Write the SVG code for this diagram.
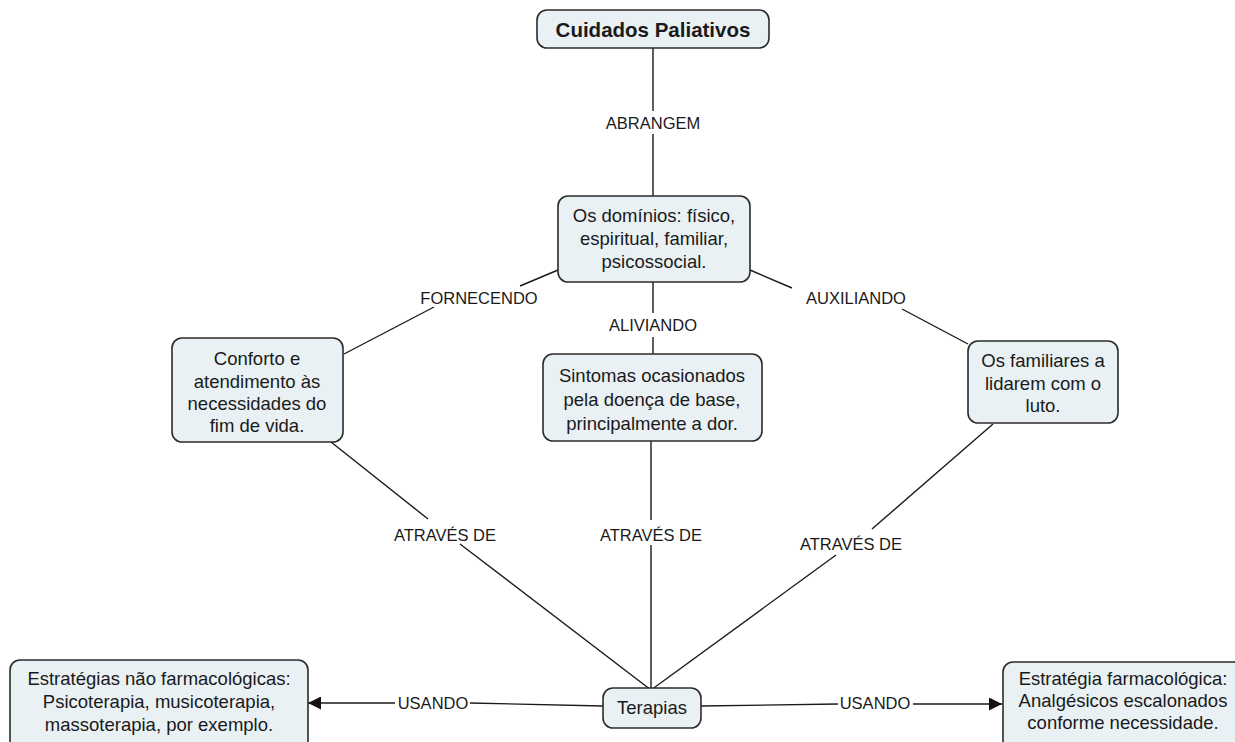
<svg xmlns="http://www.w3.org/2000/svg" width="1235" height="742" viewBox="0 0 1235 742">
  <style>
    .node rect { fill: #e9f1f4; stroke: #2b2b2b; stroke-width: 1.6; }
    .node text { font-family: "Liberation Sans", Arial, sans-serif; font-size: 18.5px; fill: #1a1a1a; text-anchor: middle; }
    .title text { font-weight: bold; font-size: 20.5px; }
    .edges line { stroke: #1a1a1a; stroke-width: 1.4; fill: none; }
    .lbl { font-family: "Liberation Sans", Arial, sans-serif; font-size: 16.5px; fill: #1a1a1a; text-anchor: middle; }
  </style>
  <defs>
    <marker id="arrow" viewBox="0 0 10 10" refX="10" refY="5" markerWidth="13" markerHeight="13" markerUnits="userSpaceOnUse" orient="auto">
      <path d="M0,0 L10,5 L0,10 z" fill="#111"/>
    </marker>
  </defs>
  <rect width="1235" height="742" fill="#ffffff"/>

  <!-- connectors, broken where a linking phrase sits -->
  <g class="edges">
    <line x1="653" y1="48" x2="653" y2="111"/>
    <line x1="653" y1="134" x2="653" y2="196"/>
    <line x1="558" y1="270" x2="520" y2="286"/>
    <line x1="434" y1="307" x2="344" y2="354"/>
    <line x1="653" y1="282" x2="653" y2="313"/>
    <line x1="653" y1="337" x2="653" y2="354"/>
    <line x1="750" y1="270" x2="792" y2="288"/>
    <line x1="902" y1="309" x2="968" y2="344"/>
    <line x1="331" y1="442" x2="428" y2="519"/>
    <line x1="460" y1="544" x2="651" y2="690"/>
    <line x1="651" y1="441" x2="651" y2="520"/>
    <line x1="651" y1="545" x2="651" y2="690"/>
    <line x1="993" y1="424" x2="872" y2="529"/>
    <line x1="836" y1="555" x2="651" y2="690"/>
    <line x1="603" y1="706" x2="470" y2="703"/>
    <line x1="395" y1="703" x2="308" y2="703" marker-end="url(#arrow)"/>
    <line x1="701" y1="706" x2="838" y2="704"/>
    <line x1="913" y1="704" x2="1002" y2="704" marker-end="url(#arrow)"/>
  </g>

  <g class="lbls">
    <text class="lbl" x="653" y="129">ABRANGEM</text>
    <text class="lbl" x="479" y="304">FORNECENDO</text>
    <text class="lbl" x="653" y="331">ALIVIANDO</text>
    <text class="lbl" x="856" y="304">AUXILIANDO</text>
    <text class="lbl" x="445" y="541">ATRAVÉS DE</text>
    <text class="lbl" x="651" y="541">ATRAVÉS DE</text>
    <text class="lbl" x="851" y="550">ATRAVÉS DE</text>
    <text class="lbl" x="433" y="709">USANDO</text>
    <text class="lbl" x="875" y="709">USANDO</text>
  </g>

  <g id="cuidados" class="node title">
    <rect x="537" y="10" width="232" height="38" rx="10"/>
    <text x="653" y="37">Cuidados Paliativos</text>
  </g>

  <g id="dominios" class="node">
    <rect x="558" y="196" width="192" height="86" rx="10"/>
    <text x="654" y="222">Os domínios: físico,</text>
    <text x="654" y="245">espiritual, familiar,</text>
    <text x="654" y="268">psicossocial.</text>
  </g>

  <g id="conforto" class="node">
    <rect x="172" y="338" width="171" height="104" rx="10"/>
    <text x="257" y="365">Conforto e</text>
    <text x="257" y="388">atendimento às</text>
    <text x="257" y="410">necessidades do</text>
    <text x="257" y="432">fim de vida.</text>
  </g>

  <g id="sintomas" class="node">
    <rect x="543" y="354" width="219" height="87" rx="10"/>
    <text x="652" y="382">Sintomas ocasionados</text>
    <text x="652" y="406">pela doença de base,</text>
    <text x="652" y="430">principalmente a dor.</text>
  </g>

  <g id="familiares" class="node">
    <rect x="968" y="341" width="150" height="82" rx="10"/>
    <text x="1043" y="367">Os familiares a</text>
    <text x="1043" y="390">lidarem com o</text>
    <text x="1043" y="412">luto.</text>
  </g>

  <g id="terapias" class="node">
    <rect x="603" y="688" width="98" height="40" rx="10"/>
    <text x="652" y="714">Terapias</text>
  </g>

  <g id="nao-farmaco" class="node">
    <rect x="10" y="660" width="298" height="90" rx="10"/>
    <text x="159" y="685">Estratégias não farmacológicas:</text>
    <text x="159" y="708">Psicoterapia, musicoterapia,</text>
    <text x="159" y="731">massoterapia, por exemplo.</text>
  </g>

  <g id="farmaco" class="node">
    <rect x="1003" y="662" width="240" height="90" rx="10"/>
    <text x="1123" y="685">Estratégia farmacológica:</text>
    <text x="1123" y="707">Analgésicos escalonados</text>
    <text x="1123" y="729">conforme necessidade.</text>
  </g>
</svg>
